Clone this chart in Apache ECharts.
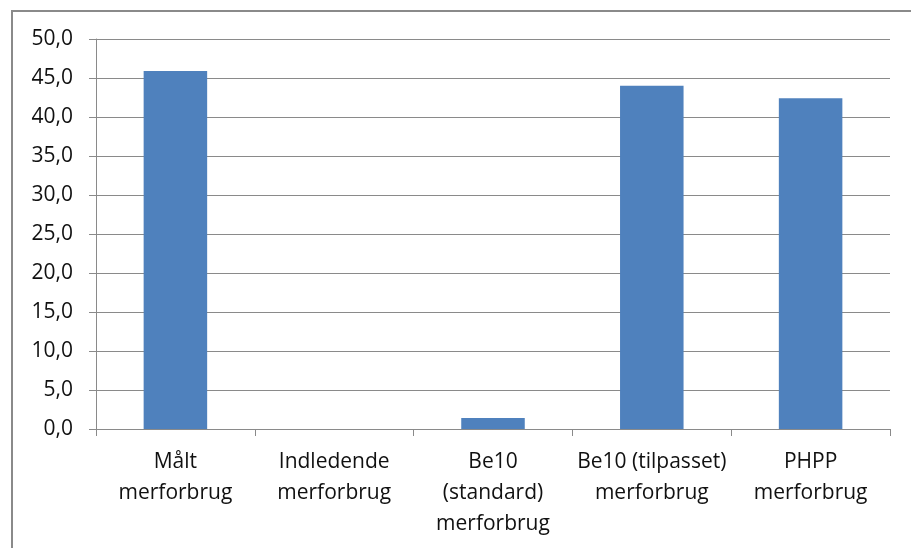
<!DOCTYPE html>
<html>
<head>
<meta charset="utf-8">
<script src="https://cdn.jsdelivr.net/npm/echarts@6/dist/echarts.min.js"></script>
<style>
  html, body { margin: 0; padding: 0; background: #fff; }
  #chart { width: 911px; height: 548px; }
</style>
</head>
<body>
<div id="chart"></div>
<script>
// Merforbrug per beregningsmetode
const categories = [
  'Målt\nmerforbrug',
  'Indledende\nmerforbrug',
  'Be10\n(standard)\nmerforbrug',
  'Be10 (tilpasset)\nmerforbrug',
  'PHPP\nmerforbrug'
];
const values = [45.9, 0, 1.4, 44.0, 42.4];
const yMin = 0, yMax = 50, yStep = 5;

const chart = echarts.init(document.getElementById('chart'), null, { renderer: 'canvas' });
const fontFamily = '"Open Sans", "Noto Sans", sans-serif';

chart.setOption({
  animation: false,
  backgroundColor: '#fff',
  graphic: [{
    type: 'rect',
    shape: { x: 12, y: 11, width: 920, height: 560 },
    style: { fill: 'none', stroke: '#8a8a8a', lineWidth: 2 },
    silent: true
  }],
  grid: { left: 96, right: 21, top: 39, bottom: 119 },
  xAxis: {
    type: 'category',
    data: categories,
    axisLine: { show: true, lineStyle: { color: '#8a8a8a', width: 1 } },
    axisTick: { show: true, alignWithLabel: false, length: 7, lineStyle: { color: '#8a8a8a' } },
    axisLabel: {
      interval: 0,
      margin: 18,
      color: '#111',
      fontFamily: fontFamily,
      fontSize: 21,
      lineHeight: 31
    }
  },
  yAxis: {
    type: 'value',
    min: yMin,
    max: yMax,
    interval: yStep,
    axisLine: { show: true, lineStyle: { color: '#8a8a8a', width: 1 } },
    axisTick: { show: true, length: 7, lineStyle: { color: '#8a8a8a' } },
    splitLine: { show: true, lineStyle: { color: '#8a8a8a', width: 1 } },
    axisLabel: {
      margin: 23,
      color: '#111',
      fontFamily: fontFamily,
      fontSize: 21,
      formatter: v => v.toFixed(1).replace('.', ',')
    }
  },
  series: [{
    type: 'bar',
    data: values,
    barCategoryGap: '60%',
    itemStyle: { color: '#4f81bd' }
  }]
});
</script>
</body>
</html>
